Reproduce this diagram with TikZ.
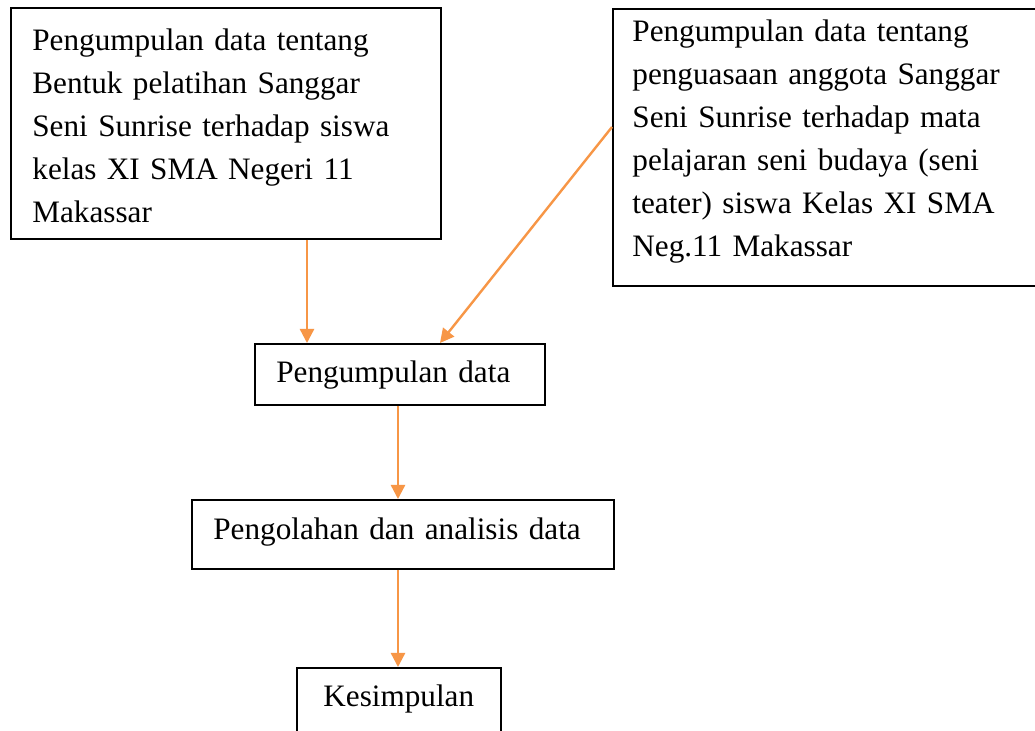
\documentclass[tikz,border=0pt]{standalone}
\usepackage{fontspec}
\setmainfont{Liberation Serif}
\usetikzlibrary{arrows.meta}
\begin{document}
\begin{tikzpicture}[x=0.5pt,y=-0.5pt,
  boxstyle/.style={draw=black,line width=1pt,rectangle,inner sep=0pt,anchor=north west},
  txt/.style={anchor=base west,inner sep=0pt,text width=400pt,align=left,
    font=\fontsize{15.6}{21.5}\selectfont},
  arr/.style={draw={rgb,255:red,247;green,150;blue,70},line width=1.2pt,
    -{Triangle[length=7pt,width=7pt]}}]
\useasboundingbox (0,0) rectangle (1035,731);
\clip (0,0) rectangle (1035,731);
\fill[white] (0,0) rectangle (1035,731);
% boxes
\node[boxstyle,minimum width=215pt,minimum height=115.5pt] (b1) at (10,7) {};
\node[boxstyle,minimum width=214pt,minimum height=138.5pt] (b2) at (612,8) {};
\node[boxstyle,minimum width=145pt,minimum height=30.5pt] (b3) at (254,343) {};
\node[boxstyle,minimum width=211pt,minimum height=34.5pt] (b4) at (191,499) {};
\node[boxstyle,minimum width=102pt,minimum height=50pt] (b5) at (296,667) {};
% texts
\node[txt] (t1) at (32,51) {Pengumpulan data tentang\\Bentuk pelatihan Sanggar\\Seni Sunrise terhadap siswa\\kelas XI SMA Negeri 11\\Makassar};
\node[txt] (t2) at (632,42) {Pengumpulan data tentang\\penguasaan anggota Sanggar\\Seni Sunrise terhadap mata\\pelajaran seni budaya (seni\\teater) siswa Kelas XI SMA\\Neg.11 Makassar};
\node[txt] (t3) at (276,383) {Pengumpulan data};
\node[txt] (t4) at (213,540) {Pengolahan dan analisis data};
\node[txt] (t5) at (323,707) {Kesimpulan};
% connectors
\coordinate (ax1) at (307,0);
\coordinate (ay2) at (0,127);
\coordinate (ax2) at (440,0);
\coordinate (ax3) at (398,0);
\draw[arr] (b1.south -| ax1) -- (b3.north -| ax1);
\draw[arr] (b2.west |- ay2) -- (b3.north -| ax2);
\draw[arr] (b3.south -| ax3) -- (b4.north -| ax3);
\draw[arr] (b4.south -| ax3) -- (b5.north -| ax3);
\end{tikzpicture}
\end{document}
